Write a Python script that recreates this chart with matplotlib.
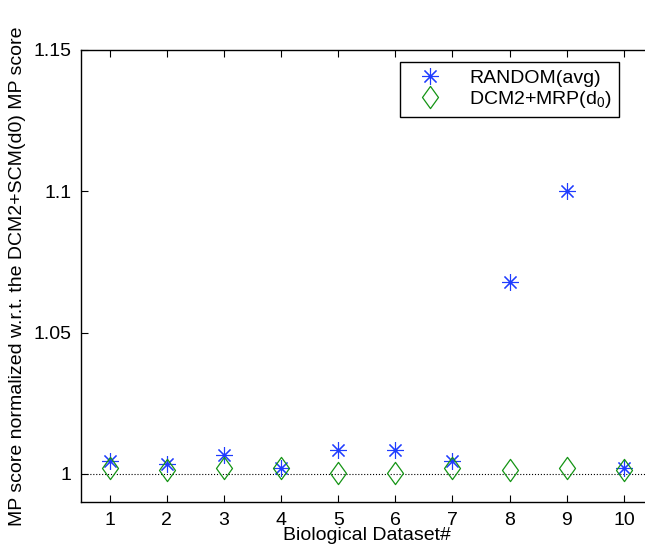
import matplotlib
matplotlib.use("Agg")
import matplotlib.pyplot as plt
from matplotlib.path import Path

plt.rcParams['font.family'] = ['Liberation Sans', 'DejaVu Sans']
plt.rcParams['mathtext.fontset'] = 'custom'
plt.rcParams['mathtext.rm'] = 'Liberation Sans'
plt.rcParams['mathtext.it'] = 'Liberation Sans'
plt.rcParams['mathtext.default'] = 'regular'

# data
datasets = [1, 2, 3, 4, 5, 6, 7, 8, 9, 10]
random_avg = [1.0046, 1.0035, 1.0065, 1.0021, 1.0085, 1.0085, 1.0046, 1.0678, 1.1002, 1.0021]
dcm2_mrp = [1.0021, 1.0014, 1.0021, 1.0021, 1.0003, 1.0003, 1.0020, 1.0014, 1.0021, 1.0014]
yticks = [1, 1.05, 1.1, 1.15]
ytick_labels = ['1', '1.05', '1.1', '1.15']

blue = '#1f3cff'
green = '#149414'

# matlab style diamond (taller than wide)
diamond = Path([(0, 1), (0.72, 0), (0, -1), (-0.72, 0), (0, 1)],
               [Path.MOVETO, Path.LINETO, Path.LINETO, Path.LINETO, Path.CLOSEPOLY])

fig = plt.figure(figsize=(6.45, 5.5), dpi=100)
# axes run past the right edge, like the cropped original
ax = fig.add_axes([81 / 645, 48 / 550, 571.5 / 645, 452 / 550])

# reference line at 1
ax.plot([0.5, 10.5], [1, 1], linestyle=':', color='black', linewidth=0.8)

ax.plot(datasets, random_avg, linestyle='none', marker=(8, 2, 0), markersize=12,
        markeredgewidth=0.8, color=blue, label='RANDOM(avg)')
ax.plot(datasets, dcm2_mrp, linestyle='none', marker=diamond, markersize=16,
        markeredgewidth=0.9, markerfacecolor='none', markeredgecolor=green,
        label='DCM2+MRP(d$_0$)')

ax.set_xlim(0.5, 10.5)
ax.set_ylim(0.99, 1.15)
ax.set_xticks(datasets)
ax.set_yticks(yticks)
ax.set_yticklabels(ytick_labels)
ax.tick_params(direction='in', top=True, right=True, length=5, width=0.8,
               labelsize=14, pad=7)
for s in ax.spines.values():
    s.set_linewidth(1.0)

ax.set_xlabel('Biological Dataset#', fontsize=14, labelpad=-1)
ax.set_ylabel('MP score normalized w.r.t. the DCM2+SCM(d0) MP score', fontsize=14,
              labelpad=5)

leg = ax.legend(loc='upper right', bbox_to_anchor=(0.941, 0.973), borderaxespad=0,
                fancybox=False, framealpha=1, edgecolor='black', fontsize=14,
                handlelength=2.4, handletextpad=0.8, borderpad=0.35,
                labelspacing=0.12)
leg.get_frame().set_linewidth(1.0)

fig.savefig('out.png', dpi=100)
